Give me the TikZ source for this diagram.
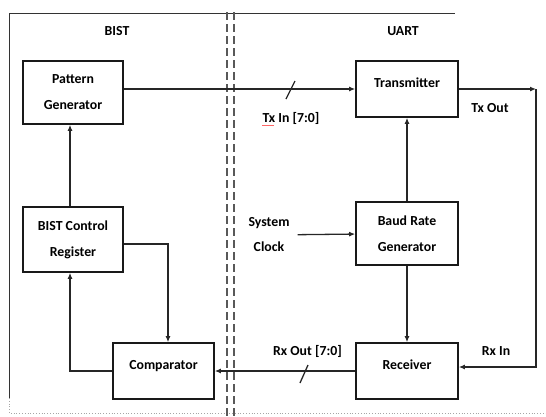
\documentclass[tikz,border=0pt]{standalone}
\usepackage{fontspec}
\setmainfont{Carlito}
\usetikzlibrary{positioning,calc}

\tikzset{
    block/.style={draw=black!90, line width=1.6pt, minimum width=100pt, inner sep=0pt,
        align=center, font={\fontsize{13.8}{26}\selectfont\bfseries}},
    oneline/.style={text height=10pt, text depth=14pt},
    label/.style={align=center, inner sep=0pt, font={\fontsize{13.8}{25}\selectfont\bfseries}},
    link/.style={draw=black!85, line width=1.3pt, -{Latex[length=6pt,width=5pt]}},
    wire/.style={draw=black!85, line width=1.3pt},
    border/.style={draw=black!80, line width=1pt},
}
\usetikzlibrary{arrows.meta}

\begin{document}
\begin{tikzpicture}[x=1pt,y=-1pt]
    \useasboundingbox (0,0) rectangle (546,416);

    %% Frame and partition
    \draw[border] (9,398) -- (9,13) -- (455,13);
    \draw[draw=black!35, line width=0.8pt, dotted] (9,398) -- (9,413) -- (546,413);
    \draw[draw=black!65, line width=1.4pt, dash pattern=on 8pt off 4pt] (227,12) -- (227,416);
    \draw[draw=black!65, line width=1.4pt, dash pattern=on 8pt off 4pt] (234,12) -- (234,416);

    % Titles
    \node[label] (bist) at (117,31) {BIST};
    \node[label] (uart) at (403,31) {UART};

    %% BIST side
    \node[block, minimum height=63pt] (pg) at (73,92.5) {Pattern\\Generator};
    \node[block, minimum height=65pt] (bcr) at (73,239.5) {BIST Control\\Register};
    \node[block, oneline, minimum width=101pt, minimum height=56pt] (comp) at (163.5,371) {Comparator};

    %% UART side
    \node[block, oneline, minimum width=102pt, minimum height=56pt] (tx) at (407,89) {Transmitter};
    \node[block, minimum width=102pt, minimum height=63pt] (brg) at (407,233.5) {Baud Rate\\Generator};
    \node[block, oneline, minimum width=102pt, minimum height=56pt] (rx) at (407,371) {Receiver};
    \node[label, inner sep=8pt] (sysclk) at (269,235) {System\\Clock};

    % Parallel data in
    \draw[link] (tx.west -| pg.east) -- (tx.west);
    \coordinate (txbus) at (290.5,89);
    \draw[wire] ($(txbus)+(-4.5,10)$) -- ($(txbus)+(4.5,-8)$);
    \node[label] (txin) at (291,118) {Tx In [7:0]};
    \draw[red!60, line width=0.9pt] ($(txin.south west)+(0,1.5)$) -- ++(12,0);

    % Serial loop back
    \coordinate (txout) at (536,89);
    \draw[link] (tx.east) -- (txout);
    \draw[link] (txout) |- ([yshift=4pt]rx.east);
    \node[label] (txlbl) at (490,108) {Tx Out};
    \node[label] (rxlbl) at (496,351) {Rx In};

    % Baud clock
    \draw[link] (sysclk) -- (brg);
    \draw[link] (brg) -- (tx);
    \draw[link] (brg) -- (rx);

    % Parallel data out
    \draw[link] (rx.west) -- (comp.east);
    \coordinate (rxbus) at (304,373);
    \draw[wire] ($(rxbus)+(-4,10)$) -- ($(rxbus)+(4,-8)$);
    \node[label] (rxout) at (307.5,351) {Rx Out [7:0]};

    % BIST control loop
    \draw[link] ([xshift=-3pt]bcr.north) -- ([xshift=-3pt]pg.south);
    \draw[link] ([yshift=-4.5pt]bcr.east) -| ([xshift=4.5pt]comp.north);
    \draw[link] (comp.west) -| ([xshift=-3pt]bcr.south);

\end{tikzpicture}
\end{document}
